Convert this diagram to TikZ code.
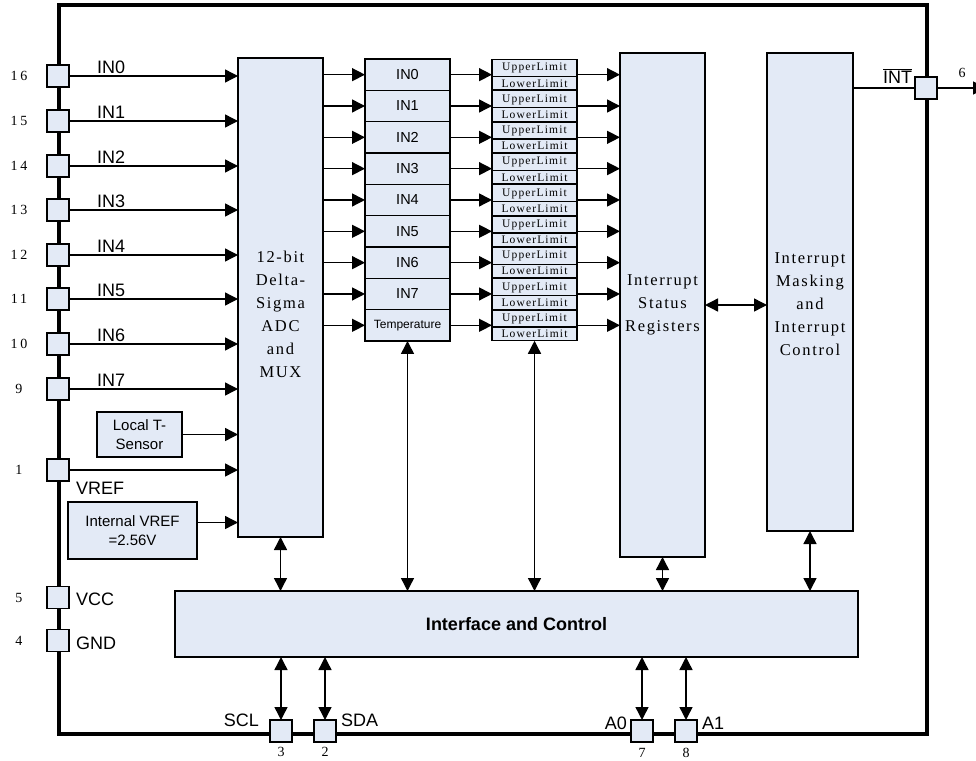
\documentclass[tikz,border=0pt]{standalone}
\usepackage{fontspec}
\setmainfont{Liberation Sans}
\newfontfamily\simfont[LetterSpace=10]{Liberation Serif}
\newfontfamily\numfont[LetterSpace=20]{Liberation Serif}
\usepackage{tikz}
\usetikzlibrary{arrows.meta,positioning,shapes}
\usepackage{xcolor}
\definecolor{boxblue}{HTML}{E3EAF6}

\begin{document}
\begin{tikzpicture}[
  x=1pt, y=-1pt,
  every node/.style={align=center, inner sep=0pt, outer sep=0pt},
  blk/.style={draw, fill=boxblue, line width=1.4pt},
  pad/.style={blk, minimum size=22pt},
  chan/.style={blk, minimum width=85pt, minimum height=31.33pt, font=\fontsize{14.5}{16}\selectfont},
  lim/.style={blk, rectangle split, rectangle split parts=2, minimum width=85pt, inner ysep=2.3pt, text height=8.6pt, text depth=2.6pt, font=\simfont\fontsize{11.5}{12}\selectfont},
  serif/.style={font=\simfont\fontsize{16.5}{23}\selectfont},
  pinnum/.style={font=\numfont\fontsize{14}{16}\selectfont},
  sig/.style={font=\fontsize{18}{20}\selectfont},
  arr/.style={-{Triangle[length=13pt, width=13pt]}, line width=1.4pt},
  biarr/.style={{Triangle[length=13pt, width=13pt]}-{Triangle[length=13pt, width=13pt]}, line width=1.4pt},
]
  \useasboundingbox (0,0) rectangle (976,760);

  % Package outline
  \draw[line width=4pt] (59,5) rectangle (927,734);

  % ADC block
  \node[blk, minimum width=85pt, minimum height=479pt, anchor=north west,
    label={[serif, yshift=-17pt]center:{12-bit\\Delta-\\Sigma\\ADC\\and\\MUX}}] (adc) at (238,58) {};

  % Channel registers
  \node[chan, anchor=north west] (ch0) at (365,59) {IN0};
  \node[chan, below=0pt of ch0] (ch1) {IN1};
  \node[chan, below=0pt of ch1] (ch2) {IN2};
  \node[chan, below=0pt of ch2] (ch3) {IN3};
  \node[chan, below=0pt of ch3] (ch4) {IN4};
  \node[chan, below=0pt of ch4] (ch5) {IN5};
  \node[chan, below=0pt of ch5] (ch6) {IN6};
  \node[chan, below=0pt of ch6] (ch7) {IN7};
  \node[chan, below=0pt of ch7, font=\fontsize{12}{14}\selectfont] (ch8) {Temperature};

  % Limit registers
  \foreach \i in {0,...,8}
    \node[lim, right=42pt of ch\i] (l\i) {UpperLimit\nodepart{two}LowerLimit};

  % Interrupt blocks
  \node[blk, serif, minimum width=85pt, minimum height=504pt] (isr) at (662.5,305) {Interrupt\\Status\\Registers};
  \node[blk, minimum width=86pt, minimum height=478pt,
    label={[serif, yshift=-12pt]center:{Interrupt\\Masking\\and\\Interrupt\\Control}}] (imic) at (810,292) {};

  % Interface
  \node[blk, minimum width=683pt, minimum height=66pt, font=\bfseries\fontsize{18}{20}\selectfont] (iface) at (516.5,624) {Interface and Control};

  % Analog input pins
  \foreach \i/\y/\num in {0/76/16, 1/121/15, 2/166/14, 3/210/13, 4/255/12, 5/299/11, 6/344/10, 7/389/9} {
    \node[pad] (in\i) at (58,\y) {};
    \node[pinnum] (n\i) at (19,\y) {\num};
    \node[sig, anchor=base west] (t\i) at (97,\y-3) {IN\i};
    \draw[arr] (in\i) -- (in\i -| adc.west);
  }

  % Sensor and reference
  \node[blk, minimum width=85pt, minimum height=45pt, font=\fontsize{15}{19}\selectfont] (tsense) at (139.5,434.5) {Local T-\\Sensor};
  \node[pad] (vref) at (58,470) {};
  \node[pinnum] (nvref) at (19,470) {1};
  \node[sig, anchor=base west] (tvref) at (76,494) {VREF};
  \node[blk, minimum width=129pt, minimum height=57pt, font=\fontsize{15}{19}\selectfont] (ivref) at (132.5,530.5) {Internal VREF\\=2.56V};
  \draw[arr] (tsense) -- (tsense -| adc.west);
  \draw[arr] (vref) -- (vref -| adc.west);
  \draw[arr] ([yshift=8pt]ivref.east) -- ([yshift=8pt]ivref.east -| adc.west);

  % Supply pins
  \node[pad] (vcc) at (58,597.5) {};
  \node[pinnum] (nvcc) at (19,597.5) {5};
  \node[sig, anchor=base west] (tvcc) at (76,605) {VCC};
  \node[pad] (gnd) at (58,640.5) {};
  \node[pinnum] (ngnd) at (19,640.5) {4};
  \node[sig, anchor=base west] (tgnd) at (76,649) {GND};

  % Data paths
  \foreach \i in {0,...,8} {
    \draw[arr] (ch\i.west -| adc.east) -- (ch\i);
    \draw[arr] (ch\i) -- (l\i);
    \draw[arr] (l\i) -- (l\i -| isr.west);
  }
  \draw[biarr] (isr) -- (isr -| imic.west);

  % Bus to interface
  \draw[biarr] (adc) -- (adc |- iface.north);
  \draw[biarr] (ch8) -- (ch8 |- iface.north);
  \draw[biarr] (l8) -- (l8 |- iface.north);
  \draw[biarr] (isr) -- (isr |- iface.north);
  \draw[biarr] (imic) -- (imic |- iface.north);

  % Serial and address pins
  \node[pad] (scl) at (281,731) {};
  \node[pad] (sda) at (325,731) {};
  \node[pad] (ad0) at (642,731) {};
  \node[pad] (ad1) at (686,731) {};
  \node[sig, anchor=base east] (tscl) at (259,726) {SCL};
  \node[sig, anchor=base west] (tsda) at (341,726) {SDA};
  \node[sig, anchor=base east] (tad0) at (627,729) {A0};
  \node[sig, anchor=base west] (tad1) at (702,729) {A1};
  \node[pinnum] (nscl) at (281,752) {3};
  \node[pinnum] (nsda) at (325,752) {2};
  \node[pinnum] (nad0) at (642,753) {7};
  \node[pinnum] (nad1) at (686,753) {8};
  \draw[biarr] (scl) -- (scl |- iface.south);
  \draw[biarr] (sda) -- (sda |- iface.south);
  \draw[biarr] (ad0) -- (ad0 |- iface.south);
  \draw[biarr] (ad1) -- (ad1 |- iface.south);

  % Interrupt output
  \node[pad] (intpad) at (926,88) {};
  \node[sig, anchor=base east] (tint) at (912,83) {$\overline{\mbox{INT}}$};
  \node[pinnum] (nint) at (962,73) {6};
  \coordinate (intout) at (986,88);
  \draw[line width=1.4pt] (imic.east |- intpad) -- (intpad);
  \draw[arr] (intpad) -- (intout);
\end{tikzpicture}
\end{document}
